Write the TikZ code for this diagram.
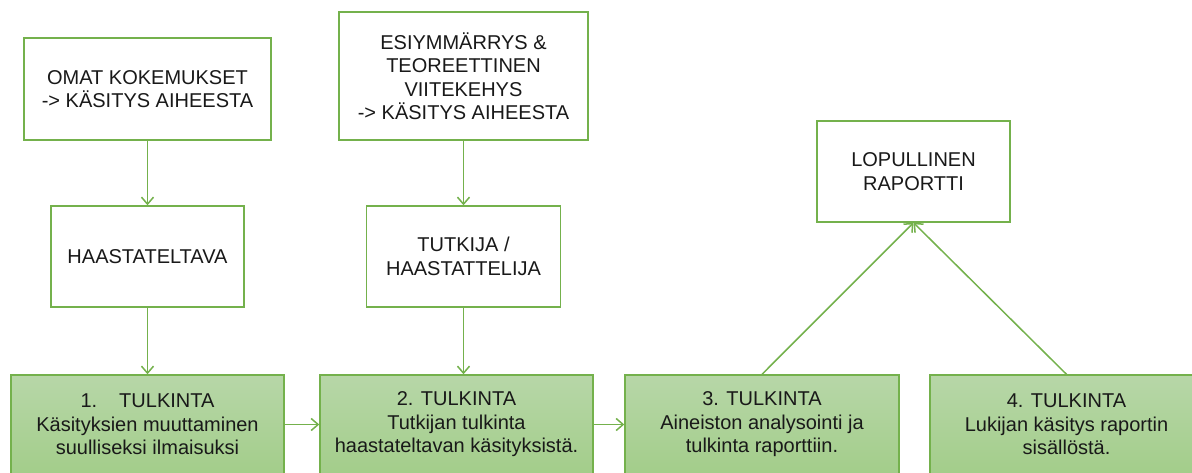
\documentclass[tikz,border=0pt]{standalone}
\usepackage{fontspec}
\setmainfont{Liberation Sans}
\usetikzlibrary{arrows.meta}
\definecolor{lgreen}{RGB}{116,177,76}
\definecolor{gtop}{RGB}{183,215,168}
\definecolor{gbot}{RGB}{163,205,138}
\definecolor{txt}{RGB}{25,25,25}
\tikzset{
  base/.style={draw=lgreen, line width=1.4pt, align=center, inner sep=0pt,
    text=txt, font=\fontsize{20}{23.5}\selectfont},
  whitebox/.style={base, fill=white},
  stagebox/.style={base, top color=gtop, bottom color=gbot,
    minimum width=273pt, minimum height=99pt},
  conn/.style={draw=lgreen, line width=1.5pt,
    -{Straight Barb[length=7pt,width=12pt,line width=1.5pt]}}
}
\begin{document}
\begin{tikzpicture}[x=1pt,y=-1pt]
\useasboundingbox (0,0) rectangle (1192,472);
\node[whitebox, minimum width=247pt, minimum height=102pt] (omat) at (147.5,89)
  {OMAT KOKEMUKSET\\-> KÄSITYS AIHEESTA};
\node[whitebox, minimum width=249pt, minimum height=128pt] (esi) at (463.5,76)
  {ESIYMMÄRRYS \&\\TEOREETTINEN\\VIITEKEHYS\\-> KÄSITYS AIHEESTA};
\node[whitebox, minimum width=193pt, minimum height=101pt] (haas) at (147.5,256.5)
  {HAASTATELTAVA};
\node[whitebox, minimum width=194pt, minimum height=101pt] (tutk) at (463.5,256.5)
  {TUTKIJA /\\HAASTATTELIJA};
\node[whitebox, minimum width=193pt, minimum height=101pt] (lop) at (913.5,171.5)
  {LOPULLINEN\\RAPORTTI};
\node[stagebox] (t1) at (147.5,424.5)
  {1.\hspace{1.1em}TULKINTA\\Käsityksien muuttaminen\\suulliseksi ilmaisuksi};
\node[stagebox] (t2) at (456.5,424.5)
  {2. TULKINTA\\Tutkijan tulkinta\\haastateltavan käsityksistä.};
\node[stagebox, minimum width=274pt] (t3) at (762,424.5)
  {3. TULKINTA\\Aineiston analysointi ja\\tulkinta raporttiin.};
\node[stagebox] (t4) at (1066.5,424.5)
  {4. TULKINTA\\Lukijan käsitys raportin\\sisällöstä.};
\draw[conn] (omat.south) -- (haas.north);
\draw[conn] (haas.south) -- (t1.north);
\draw[conn] (esi.south) -- (tutk.north);
\draw[conn] (tutk.south) -- (tutk.south |- t2.north);
\draw[conn] (t1.east) -- (t2.west);
\draw[conn] (t2.east) -- (t3.west);
\draw[conn] (t3.north) -- (lop.south);
\draw[conn] (t4.north) -- (lop.south);
\end{tikzpicture}
\end{document}
